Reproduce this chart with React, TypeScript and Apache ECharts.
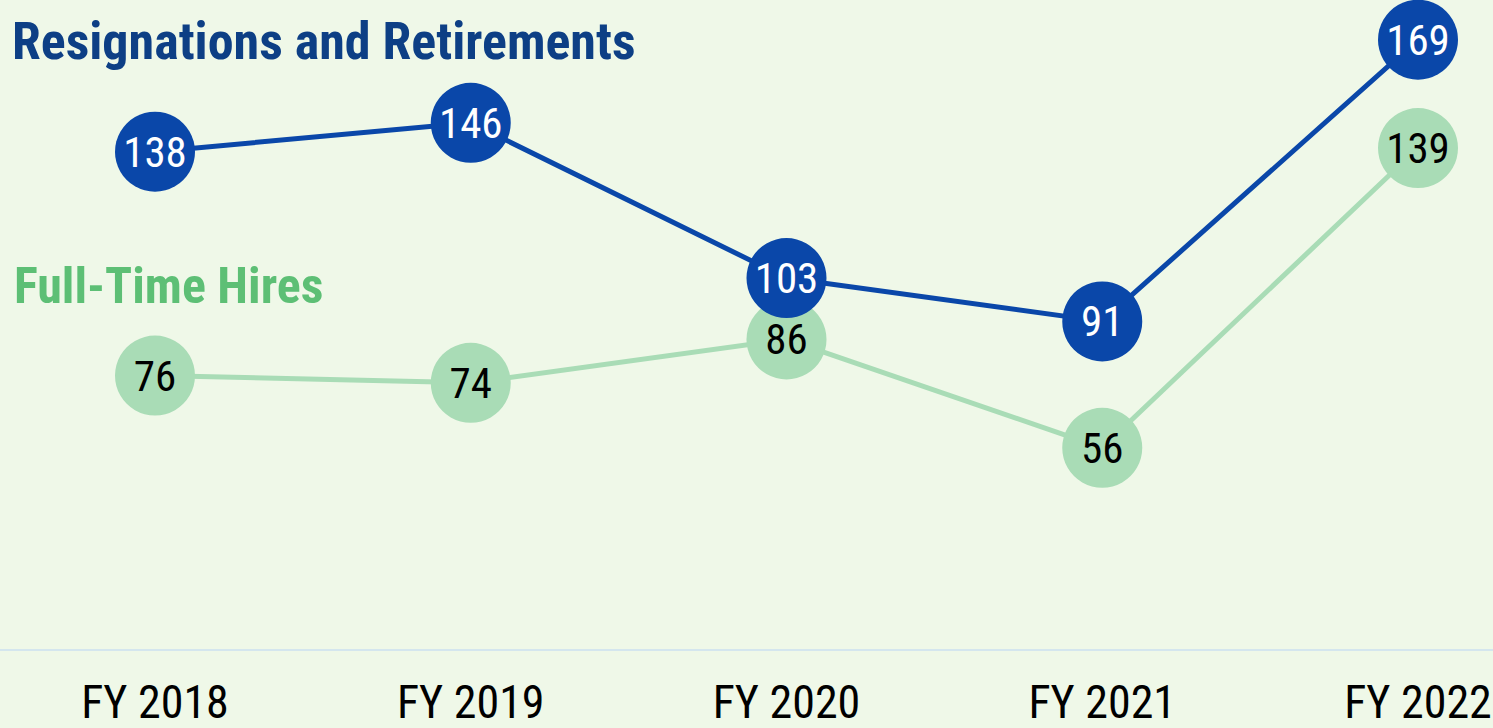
import React, { useEffect, useRef } from "react";
import * as echarts from "echarts";

const categories = ["FY 2018", "FY 2019", "FY 2020", "FY 2021", "FY 2022"];
const resignations = [138, 146, 103, 91, 169];
const hires = [76, 74, 86, 56, 139];

const FONT = '"Roboto Condensed", "Liberation Sans", Arial, sans-serif';
const BLUE = "#0a47a9";
const GREEN = "#a9dcb6";

export default function App() {
  const ref = useRef<HTMLDivElement>(null);
  useEffect(() => {
    document.body.style.margin = "0";
    const chart = echarts.init(ref.current!, null, { renderer: "svg" });
    chart.setOption({
      animation: false,
      backgroundColor: "#eff8e8",
      grid: { left: 155, right: 75, top: 0, bottom: 78, containLabel: false, outerBoundsMode: "none" },
      xAxis: {
        type: "category",
        data: categories,
        boundaryGap: false,
        axisLine: { show: false },
        axisTick: { show: false },
        axisLabel: { fontFamily: FONT, fontSize: 46, lineHeight: 44, color: "#000", margin: 30 },
      },
      yAxis: { type: "value", min: 0, max: 180, show: false, splitLine: { show: false } },
      graphic: [
        { type: "line", shape: { x1: 0, y1: 650, x2: 1493, y2: 650 }, style: { stroke: "#d4e6ee", lineWidth: 2 }, z: 1 },
        {
          type: "text",
          left: 12,
          top: 15,
          style: { text: "Resignations and Retirements", fontFamily: FONT, fontWeight: "bold", fontSize: 52, fill: "#0d3f85" },
        },
        {
          type: "text",
          left: 14,
          top: 261,
          style: { text: "Full-Time Hires", fontFamily: FONT, fontWeight: "bold", fontSize: 50, fill: "#5dbf75" },
        },
      ],
      series: [
        {
          name: "Full-Time Hires", type: "line", data: hires, symbol: "circle", symbolSize: 80,
          lineStyle: { color: GREEN, width: 5 }, itemStyle: { color: GREEN },
          label: { show: true, position: "inside", fontFamily: FONT, fontSize: 43, color: "#000" }, z: 2,
        },
        {
          name: "Resignations and Retirements", type: "line", data: resignations, symbol: "circle", symbolSize: 80,
          lineStyle: { color: BLUE, width: 5 }, itemStyle: { color: BLUE },
          label: { show: true, position: "inside", fontFamily: FONT, fontSize: 43, color: "#fff" }, z: 3,
        },
      ],
    });
    return () => chart.dispose();
  }, []);
  return <div ref={ref} style={{ width: 1493, height: 728 }} />;
}
